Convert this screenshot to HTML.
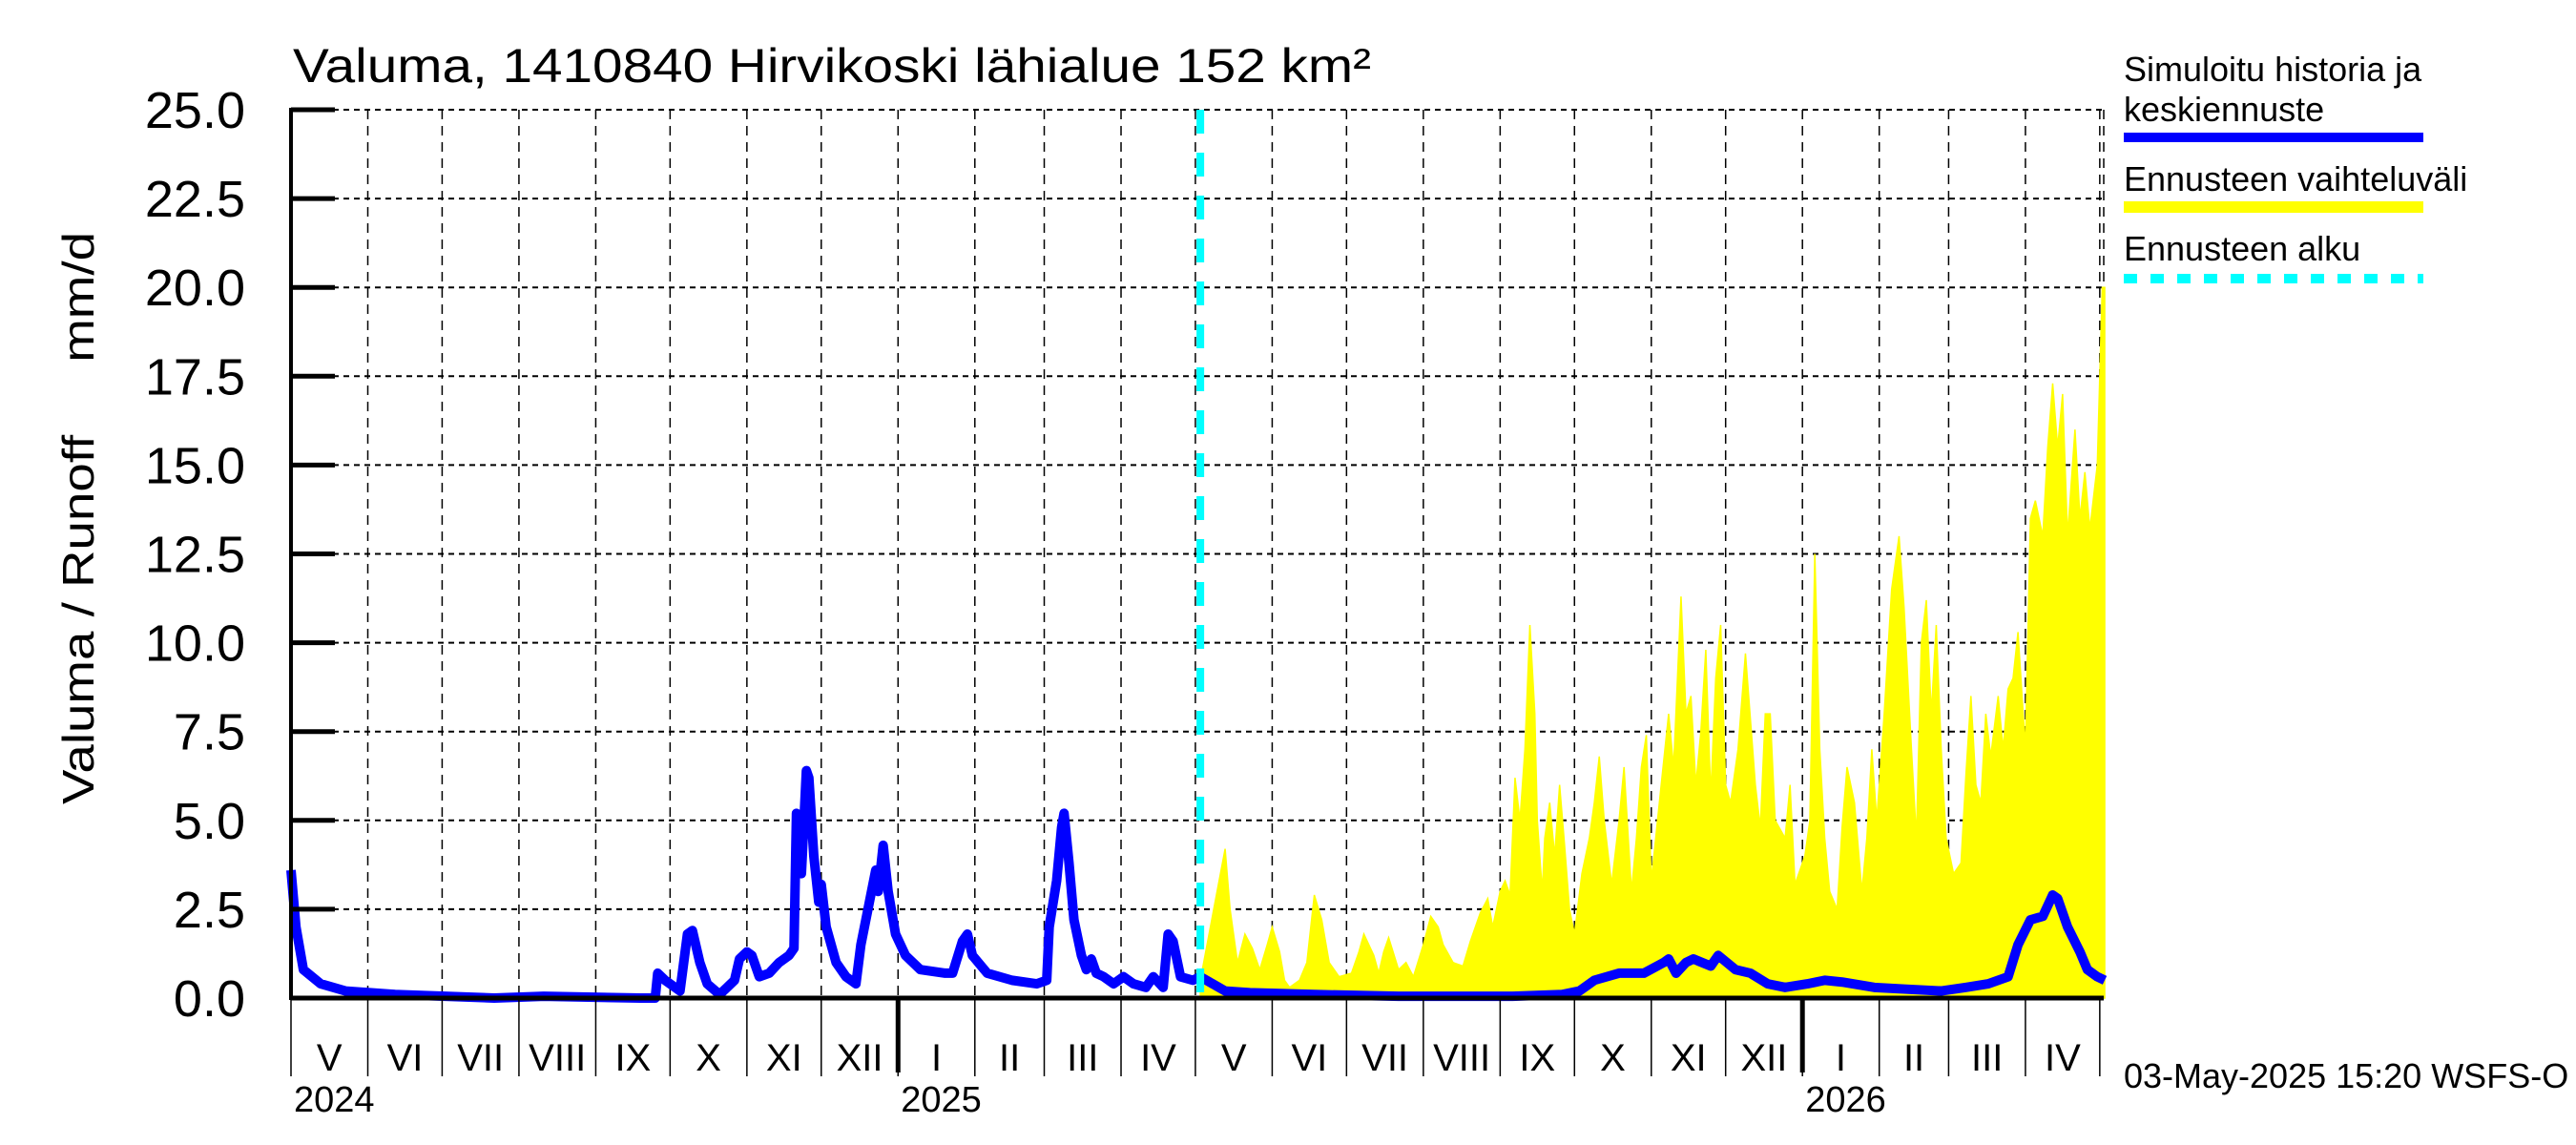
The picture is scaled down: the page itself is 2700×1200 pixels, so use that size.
<!DOCTYPE html>
<html><head><meta charset="utf-8"><style>
html,body{margin:0;padding:0;background:#fff;}
svg{display:block;font-family:"Liberation Sans",sans-serif;}
</style></head><body>
<svg id="chart" width="2700" height="1200" viewBox="0 0 2700 1200" xmlns="http://www.w3.org/2000/svg">
<rect width="2700" height="1200" fill="#fff"/>
<text x="307" y="86" font-size="50" textLength="1130" lengthAdjust="spacingAndGlyphs">Valuma, 1410840 Hirvikoski lähialue 152 km²</text>
<text transform="translate(98,543) rotate(-90)" text-anchor="middle" font-size="46" xml:space="preserve" style="white-space:pre" textLength="600" lengthAdjust="spacingAndGlyphs">Valuma / Runoff     mm/d</text>
<g id="grid"></g>
<g id="band"></g>
<g id="lines"></g>
<g id="axes"></g>
<g>
<text x="2226" y="85" font-size="36">Simuloitu historia ja</text>
<text x="2226" y="127" font-size="36">keskiennuste</text>
<rect x="2226" y="139" width="314" height="10" fill="#0000ff"/>
<text x="2226" y="200" font-size="36">Ennusteen vaihteluväli</text>
<rect x="2226" y="211" width="314" height="12" fill="#ffff00"/>
<text x="2226" y="273" font-size="36">Ennusteen alku</text>
<line x1="2226" y1="292" x2="2540" y2="292" stroke="#00ffff" stroke-width="10" stroke-dasharray="14,14"/>
</g>
<text x="2226" y="1140" font-size="36">03-May-2025 15:20 WSFS-O</text>
</svg>
<script>
const yTicks = [0, 2.5, 5, 7.5, 10, 12.5, 15, 17.5, 20, 22.5, 25];
const yTickLabels = ["0.0","2.5","5.0","7.5","10.0","12.5","15.0","17.5","20.0","22.5","25.0"];
const monthStarts = [0,31,61,92,123,153,184,214,245,276,304,335,365,396,426,457,488,518,549,579,610,641,669,700,730];
const monthLabels = ["V","VI","VII","VIII","IX","X","XI","XII","I","II","III","IV","V","VI","VII","VIII","IX","X","XI","XII","I","II","III","IV"];
const yearDays = [0,245,610];
const yearLabels = ["2024","2025","2026"];
const forecastStartDay = 367;
const simDays = [0,2,5,12,22,42,82,102,141,147,148,151,155,157,160,162,165,168,173,176,179,181,184,186,189,193,197,201,203,204,206,208,209,211,213,214,216,220,224,228,230,232,236,237,239,241,244,248,254,264,267,271,273,275,281,291,301,305,306,309,311,312,314,316,319,321,323,325,328,332,336,340,345,348,352,354,356,359,364,367,372,377,387,413,447,493,513,520,526,536,546,554,556,559,563,566,573,576,583,589,596,603,612,619,626,639,652,666,676,685,693,697,702,707,711,713,717,722,725,729,732];
const simValues = [3.6,2.0,0.8,0.4,0.2,0.1,0.0,0.05,0.0,0.0,0.7,0.5,0.3,0.2,1.8,1.9,1.0,0.4,0.1,0.3,0.5,1.1,1.3,1.2,0.6,0.7,1.0,1.2,1.4,5.2,3.5,6.4,6.2,4.0,2.7,3.2,2.0,1.0,0.6,0.4,1.5,2.2,3.6,3.0,4.3,3.0,1.8,1.2,0.8,0.7,0.7,1.6,1.8,1.2,0.7,0.5,0.4,0.5,2.0,3.3,4.8,5.2,3.8,2.2,1.2,0.8,1.1,0.7,0.6,0.4,0.6,0.4,0.3,0.6,0.3,1.8,1.6,0.6,0.5,0.6,0.4,0.2,0.15,0.1,0.05,0.05,0.1,0.2,0.5,0.7,0.7,1.0,1.1,0.7,1.0,1.1,0.9,1.2,0.8,0.7,0.4,0.3,0.4,0.5,0.45,0.3,0.25,0.2,0.3,0.4,0.6,1.5,2.2,2.3,2.9,2.8,2.0,1.3,0.8,0.6,0.5];
const rangeDays = [367,377,379,382,385,388,391,394,396,399,401,403,407,410,413,416,419,423,428,431,433,437,439,441,443,447,450,453,457,460,463,465,469,473,476,480,483,485,488,490,492,494,496,498,500,502,503,505,506,508,510,512,514,516,518,521,524,526,528,530,533,536,538,541,543,545,547,549,553,556,558,561,563,565,567,569,571,573,575,577,579,581,584,587,591,593,595,597,599,603,605,607,611,613,615,617,619,621,624,626,628,631,634,636,638,640,643,646,649,651,654,656,658,660,662,664,666,668,671,674,676,678,680,682,684,686,689,691,693,695,697,700,702,704,707,709,711,713,715,717,720,722,724,726,729,731,732];
const rangeHigh = [0.5,4.2,2.5,1.0,1.8,1.4,0.8,1.5,2.0,1.3,0.5,0.3,0.5,1.0,2.9,2.2,1.0,0.6,0.7,1.3,1.8,1.2,0.7,1.3,1.7,0.8,1.0,0.6,1.5,2.3,2.0,1.5,1.0,0.9,1.6,2.4,2.8,2.0,3.0,3.3,2.9,6.2,5.0,7.0,10.5,8.0,5.0,3.0,4.5,5.5,4.0,6.0,4.3,2.5,1.8,3.5,4.5,5.5,6.8,5.0,3.2,5.0,6.5,3.0,4.5,6.5,7.4,3.3,6.0,8.0,6.5,11.3,8.0,8.5,6.0,7.5,9.8,5.7,9.0,10.5,6.0,5.5,7.0,9.7,6.0,4.8,8.0,8.0,5.0,4.5,6.0,3.2,4.0,5.0,12.5,7.0,4.5,3.0,2.5,4.8,6.5,5.5,3.0,4.5,7.0,5.0,8.0,11.5,13.0,11.0,7.0,4.5,10.0,11.2,8.0,10.5,7.0,4.5,3.5,3.8,6.3,8.5,6.0,5.5,8.0,6.8,8.5,7.0,8.7,9.0,10.3,7.0,13.5,14.0,13.0,15.5,17.3,15.5,17.0,13.0,16.0,13.5,14.8,13.2,15.0,20.0,20.0];

const NS = "http://www.w3.org/2000/svg";
const X0 = 305, X1 = 2205, Y0 = 1046, Y1 = 115, DMAX = 731.6;
function xs(d){ return X0 + d / DMAX * (X1 - X0); }
function ys(v){ return Y0 - v / 25 * (Y0 - Y1); }
function mk(tag, attrs, parent){ const e = document.createElementNS(NS, tag); for (const k in attrs) e.setAttribute(k, attrs[k]); parent.appendChild(e); return e; }
const grid = document.getElementById('grid'), band = document.getElementById('band'), lines = document.getElementById('lines'), axes = document.getElementById('axes');

yTicks.forEach((t, i) => {
  const g = mk('line', {x1: X0, x2: X1, y1: ys(t), y2: ys(t), stroke: '#000', 'stroke-width': 2, 'stroke-dasharray': '6,5'}, grid);
  
  
  const tk = mk('line', {x1: X0, x2: X0 + 46, y1: ys(t), y2: ys(t), stroke: '#000', 'stroke-width': 5}, axes);
  
  
  const lb = mk('text', {x: 257, y: ys(t) + 19, 'text-anchor': 'end', 'font-size': 54}, axes);
  lb.textContent = yTickLabels[i];
  
  
});
monthStarts.forEach((d, i) => {
  if (d > 0) {
    const g = mk('line', {x1: xs(d), x2: xs(d), y1: Y1, y2: Y0, stroke: '#000', 'stroke-width': 1.5, 'stroke-dasharray': '10,7'}, grid);
    
    
  }
  const tk = mk('line', {x1: xs(d), x2: xs(d), y1: Y0, y2: 1128, stroke: '#000', 'stroke-width': 1.5}, axes);
  
  
  if (i < monthLabels.length) {
    const lb = mk('text', {x: (xs(d) + xs(monthStarts[i + 1])) / 2, y: 1122, 'text-anchor': 'middle', 'font-size': 40}, axes);
    lb.textContent = monthLabels[i];
    
    
  }
});
yearDays.forEach((d, i) => {
  if (d > 0) {
    const tk = mk('line', {x1: xs(d), x2: xs(d), y1: Y0, y2: 1124, stroke: '#000', 'stroke-width': 5}, axes);
    
    
  }
  const lb = mk('text', {x: xs(d) + 3, y: 1165, 'font-size': 38}, axes);
  lb.textContent = yearLabels[i];
  
  
});
const rb = mk('line', {x1: X1, x2: X1, y1: Y1, y2: Y0, stroke: '#000', 'stroke-width': 1.5, 'stroke-dasharray': '10,7'}, grid);



let pts = rangeDays.map((d, i) => xs(d) + ',' + ys(rangeHigh[i]));
pts.push(xs(rangeDays[rangeDays.length - 1]) + ',' + ys(0));
pts.push(xs(rangeDays[0]) + ',' + ys(0));
const poly = mk('polygon', {points: pts.join(' '), fill: '#ffff00', stroke: '#ffff00', 'stroke-width': 1.5}, band);



const sim = mk('polyline', {points: simDays.map((d, i) => xs(d) + ',' + ys(simValues[i])).join(' '), fill: 'none', stroke: '#0000ff', 'stroke-width': 10, 'stroke-linejoin': 'round'}, lines);



const fs = mk('line', {x1: xs(forecastStartDay), x2: xs(forecastStartDay), y1: Y1, y2: Y0, stroke: '#00ffff', 'stroke-width': 8, 'stroke-dasharray': '25,20'}, lines);



const ya = mk('line', {x1: X0, x2: X0, y1: Y1 - 2, y2: Y0 + 2, stroke: '#000', 'stroke-width': 4}, axes);


const xa = mk('line', {x1: X0, x2: X1, y1: Y0, y2: Y0, stroke: '#000', 'stroke-width': 5}, axes);


</script>
</body></html>
